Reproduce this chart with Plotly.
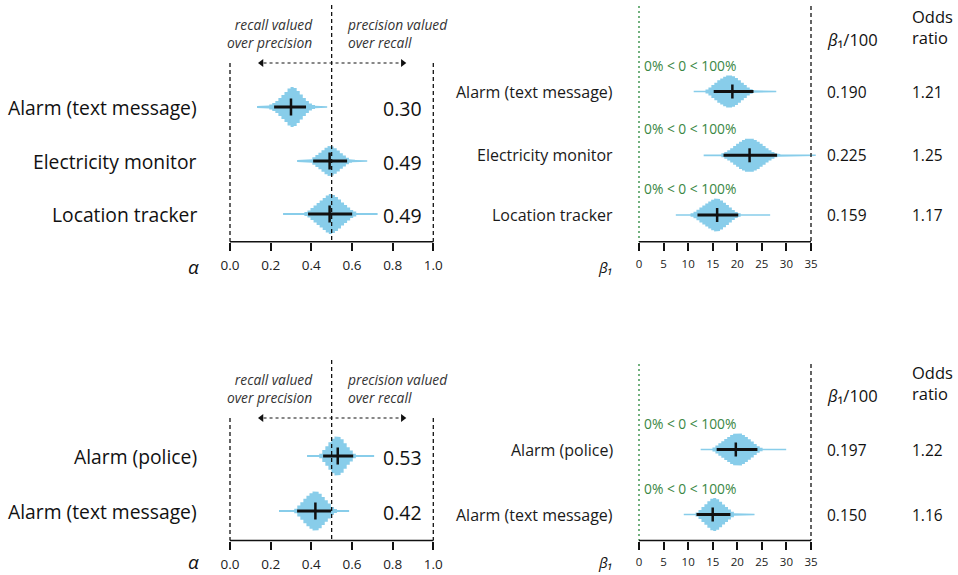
import math
import plotly.graph_objects as go

W, H = 958, 575
FONT = "Open Sans"

# ---------------- data ----------------
# top group: three devices
TOP_LABELS = ["Alarm (text message)", "Electricity monitor", "Location tracker"]
TOP_ALPHA = [0.30, 0.49, 0.49]
TOP_ALPHA_CI = [[0.217, 0.374], [0.409, 0.576], [0.384, 0.601]]
TOP_ALPHA_HIST_START = [0.133, 0.330, 0.261]
TOP_ALPHA_HIST_PEAK = [1.0, 0.75, 1.0]
TOP_ALPHA_HIST = [
    [0.05, 0.05, 0.05, 0.08, 0.12, 0.2, 0.3, 0.45, 0.6, 0.75, 0.92, 1.0,
     0.95, 0.8, 0.62, 0.45, 0.3, 0.18, 0.1, 0.06, 0.05, 0.05, 0.04],
    [0.07, 0.07, 0.07, 0.07, 0.12, 0.25, 0.4, 0.55, 0.72, 0.88, 1.0, 0.97,
     0.85, 0.7, 0.52, 0.36, 0.22, 0.12, 0.08, 0.06, 0.06, 0.06, 0.05],
    [0.05, 0.05, 0.05, 0.05, 0.05, 0.05, 0.05, 0.1, 0.18, 0.3, 0.42, 0.55,
     0.68, 0.8, 0.92, 1.0, 0.95, 0.85, 0.72, 0.58, 0.45, 0.32, 0.2, 0.12,
     0.05, 0.05, 0.05, 0.05, 0.05, 0.05, 0.05],
]
TOP_BETA = [19.0, 22.5, 15.9]
TOP_BETA_CI = [[15.2, 23.3], [17.2, 28.1], [11.9, 20.2]]
TOP_BETA_HIST_START = [11.13, 13.16, 7.49]
TOP_BETA_HIST_PEAK = [0.94, 1.0, 0.97]
TOP_BETA_HIST = [
    [0.05, 0.05, 0.05, 0.05, 0.12, 0.25, 0.4, 0.55, 0.7, 0.82, 0.92, 1.0,
     1.0, 0.95, 0.85, 0.7, 0.55, 0.4, 0.25, 0.14, 0.08, 0.05, 0.05, 0.05,
     0.05, 0.05, 0.05, 0.05],
    [0.05, 0.05, 0.05, 0.05, 0.05, 0.05, 0.12, 0.2, 0.3, 0.42, 0.55, 0.68,
     0.8, 0.9, 0.97, 1.0, 0.97, 0.9, 0.8, 0.68, 0.55, 0.42, 0.3, 0.2, 0.12,
     0.08, 0.04, 0.04, 0.04, 0.04, 0.04, 0.04, 0.04, 0.04, 0.04, 0.04, 0.04,
     0.04],
    [0.05, 0.05, 0.05, 0.05, 0.05, 0.1, 0.2, 0.32, 0.45, 0.58, 0.7, 0.82,
     0.92, 1.0, 0.97, 0.88, 0.75, 0.6, 0.45, 0.3, 0.18, 0.1, 0.05, 0.05,
     0.05, 0.05, 0.05, 0.05, 0.05, 0.05, 0.05, 0.05],
]

# bottom group: two alarm variants
BOT_LABELS = ["Alarm (police)", "Alarm (text message)"]
BOT_ALPHA = [0.53, 0.42]
BOT_ALPHA_CI = [[0.458, 0.606], [0.330, 0.497]]
BOT_ALPHA_HIST_START = [0.379, 0.241]
BOT_ALPHA_HIST_PEAK = [0.98, 0.98]
BOT_ALPHA_HIST = [
    [0.05, 0.05, 0.05, 0.05, 0.12, 0.3, 0.5, 0.7, 0.88, 1.0, 0.97, 0.85,
     0.65, 0.45, 0.28, 0.12, 0.05, 0.05, 0.05, 0.05, 0.05, 0.05],
    [0.05, 0.05, 0.05, 0.05, 0.05, 0.12, 0.28, 0.45, 0.62, 0.78, 0.9, 1.0,
     0.98, 0.88, 0.72, 0.55, 0.38, 0.2, 0.1, 0.05, 0.05, 0.05, 0.05],
]
BOT_BETA = [19.7, 15.0]
BOT_BETA_CI = [[15.8, 24.1], [11.7, 18.6]]
BOT_BETA_HIST_START = [12.55, 9.11]
BOT_BETA_HIST_PEAK = [0.97, 0.97]
BOT_BETA_HIST = [
    [0.05, 0.05, 0.05, 0.05, 0.12, 0.25, 0.38, 0.5, 0.63, 0.76, 0.88, 0.96,
     1.0, 0.97, 0.88, 0.76, 0.62, 0.48, 0.34, 0.2, 0.1, 0.04, 0.04, 0.04,
     0.04, 0.04, 0.04, 0.04, 0.04],
    [0.05, 0.05, 0.05, 0.05, 0.12, 0.28, 0.45, 0.62, 0.8, 0.95, 1.0, 0.92,
     0.78, 0.6, 0.45, 0.3, 0.16, 0.08, 0.05, 0.05, 0.05, 0.05, 0.05, 0.05],
]

ALPHA_BIN = 0.015
BETA_BIN = 0.6
ALPHA_TICKS = [0.0, 0.2, 0.4, 0.6, 0.8, 1.0]
BETA_TICKS = [0, 5, 10, 15, 20, 25, 30, 35]
SIGN_TEXT = "0% < 0 < 100%"
LEFT_NOTE = "recall valued<br>over precision"
RIGHT_NOTE = "precision valued<br>over recall"

# ---------------- layout constants (pixels) ----------------
BLUE = "#88CDEA"
GREEN_TXT = "#3a8744"
GREEN_LINE = "#4f9f5e"
INK = "#111111"
DASH = "4px,3px"

ALPHA_PX = (230, 433.3)
BETA_PX = (639, 811)
TOP_BASE, BOT_BASE = 241.7, 540.5
TOP_ALPHA_ROWS = [107, 161, 214]
TOP_BETA_ROWS = [91.5, 155.3, 215]
BOT_ALPHA_ROWS = [456, 511]
BOT_BETA_ROWS = [449.5, 514.5]
ALPHA_HALF_PX = 20
BETA_HALF_PX = 17
ALPHA_TICK_HALF = 8.5
BETA_TICK_HALF = 7


def paper_x(px):
    return px / W


def x_axis(px_rng, v_rng, base_px, tickvals, ticktext, fsize, pad=12):
    upp = (v_rng[1] - v_rng[0]) / (px_rng[1] - px_rng[0])
    return dict(
        domain=[(px_rng[0] - pad) / W, (px_rng[1] + pad) / W],
        range=[v_rng[0] - pad * upp, v_rng[1] + pad * upp],
        anchor="free", position=1 - base_px / H,
        showline=False, showgrid=False, zeroline=False,
        ticks="outside", ticklen=8, tickwidth=1.5, tickcolor=INK,
        tickvals=tickvals, ticktext=ticktext,
        tickfont=dict(family=FONT, size=fsize, color="#222"),
        ticklabelstandoff=3, fixedrange=True,
    )


fig = go.Figure()
shapes = []
annotations = []


def add_violin(xref, start, binw, heights, peak, yc, half_px):
    xs, ys = [], []
    for i, h in enumerate(heights):
        xl = start + i * binw
        xs += [xl, xl + binw]
        ys += [yc - h * peak * half_px] * 2
    for i in reversed(range(len(heights))):
        xl = start + i * binw
        xs += [xl + binw, xl]
        ys += [yc + heights[i] * peak * half_px] * 2
    xs.append(xs[0]); ys.append(ys[0])
    fig.add_trace(go.Scatter(x=xs, y=ys, xaxis=xref, yaxis="y", mode="lines",
                             fill="toself", fillcolor=BLUE, line=dict(width=0),
                             hoverinfo="skip", showlegend=False))


def add_cross(xref, mean, ci, yc, tick_half):
    fig.add_trace(go.Scatter(x=ci, y=[yc, yc], xaxis=xref, yaxis="y", mode="lines",
                             line=dict(color=INK, width=3), hoverinfo="skip",
                             showlegend=False))
    fig.add_trace(go.Scatter(x=[mean, mean], y=[yc - tick_half, yc + tick_half],
                             xaxis=xref, yaxis="y", mode="lines",
                             line=dict(color=INK, width=2.5), hoverinfo="skip",
                             showlegend=False))


def vline(xref, x, y0, y1, color, dash=DASH, width=1.3):
    shapes.append(dict(type="line", xref=xref, yref="y", x0=x, x1=x, y0=y0, y1=y1,
                       line=dict(color=color, width=width, dash=dash)))


def hline(xref, x0, x1, y, width=1.5, dash="solid"):
    shapes.append(dict(type="line", xref=xref, yref="y", x0=x0, x1=x1, y0=y, y1=y,
                       line=dict(color=INK, width=width, dash=dash)))


def text(x_px, y_px, s, size, anchor="left", color=INK, italic=False):
    annotations.append(dict(
        xref="paper", yref="y", x=paper_x(x_px), y=y_px, text=s, showarrow=False,
        xanchor=anchor, yanchor="middle", align=anchor if anchor != "center" else "center",
        font=dict(family=FONT, size=size, color=color,
                  style="italic" if italic else "normal")))


def double_arrow(xref, x0, x1, y):
    # dashed shaft plus a filled head at each end
    hline(xref, x0 + 0.01, x1 - 0.01, y, width=1.2, dash="3px,3px")
    fig.add_trace(go.Scatter(x=[x0, x1], y=[y, y], xaxis=xref, yaxis="y",
                             mode="markers", hoverinfo="skip", showlegend=False,
                             marker=dict(symbol=["triangle-left", "triangle-right"],
                                         size=7, color=INK, line=dict(width=0))))


def alpha_panel(xref, labels, means, cis, starts, peaks, hists, rows, base, top_px, axis_y):
    for lab, m, ci, s, pk, hs, yc in zip(labels, means, cis, starts, peaks, hists, rows):
        add_violin(xref, s, ALPHA_BIN, hs, pk, yc, ALPHA_HALF_PX)
        add_cross(xref, m, ci, yc, ALPHA_TICK_HALF)
        text(199, yc, lab, 19.3, anchor="right")
        text(381, yc + 1, f"{m:.2f}", 19.5)
    arrow_y = top_px + 58
    vline(xref, 0.5, top_px, base, INK)
    vline(xref, 0.0, arrow_y, base, INK)
    vline(xref, 1.0, arrow_y, base, INK)
    hline(xref, 0.0, 1.0, base)
    double_arrow(xref, 0.155, 0.85, arrow_y)
    text(315, top_px + 28, LEFT_NOTE, 13.8, anchor="right", color="#333", italic=True)
    text(345, top_px + 28, RIGHT_NOTE, 13.8, color="#333", italic=True)
    text(193, axis_y, "α", 19, anchor="center", italic=True)


def beta_panel(xref, labels, means, cis, starts, peaks, hists, rows, base, top_px,
               head_y, axis_y):
    for lab, m, ci, s, pk, hs, yc in zip(labels, means, cis, starts, peaks, hists, rows):
        add_violin(xref, s, BETA_BIN, hs, pk, yc, BETA_HALF_PX)
        add_cross(xref, m, ci, yc, BETA_TICK_HALF)
        text(615, yc, lab, 16, anchor="right", color="#1a1a1a")
        text(825, yc, f"{m / 100:.3f}", 15.5)
        text(910, yc, f"{math.exp(m / 100):.2f}", 15.5)
        text(642, yc - 26.5, SIGN_TEXT, 13.8, color=GREEN_TXT)
    vline(xref, 0, top_px, base, GREEN_LINE, dash="2px,3px", width=1.6)
    vline(xref, 35, top_px, base, INK)
    hline(xref, 0, 35, base)
    text(825, head_y, "<i>β</i>₁/100", 16.5)
    text(910, head_y - 12.5, "Odds<br>ratio", 16.5)
    text(605, axis_y, "β₁", 15, anchor="center", italic=True)


alpha_panel("x", TOP_LABELS, TOP_ALPHA, TOP_ALPHA_CI, TOP_ALPHA_HIST_START,
            TOP_ALPHA_HIST_PEAK, TOP_ALPHA_HIST, TOP_ALPHA_ROWS, TOP_BASE, 5, 267)
beta_panel("x2", TOP_LABELS, TOP_BETA, TOP_BETA_CI, TOP_BETA_HIST_START,
           TOP_BETA_HIST_PEAK, TOP_BETA_HIST, TOP_BETA_ROWS, TOP_BASE, 6, 39, 267)
alpha_panel("x3", BOT_LABELS, BOT_ALPHA, BOT_ALPHA_CI, BOT_ALPHA_HIST_START,
            BOT_ALPHA_HIST_PEAK, BOT_ALPHA_HIST, BOT_ALPHA_ROWS, BOT_BASE, 360, 562)
beta_panel("x4", BOT_LABELS, BOT_BETA, BOT_BETA_CI, BOT_BETA_HIST_START,
           BOT_BETA_HIST_PEAK, BOT_BETA_HIST, BOT_BETA_ROWS, BOT_BASE, 364, 395, 562)

alpha_ticktext = [f"{v:.1f}" for v in ALPHA_TICKS]
beta_ticktext = [str(v) for v in BETA_TICKS]

fig.update_layout(
    width=W, height=H, margin=dict(l=0, r=0, t=0, b=0),
    paper_bgcolor="white", plot_bgcolor="rgba(0,0,0,0)",
    showlegend=False,
    yaxis=dict(domain=[0, 1], range=[H, 0], visible=False, fixedrange=True),
    xaxis=x_axis(ALPHA_PX, (0, 1), TOP_BASE, ALPHA_TICKS, alpha_ticktext, 13.5),
    xaxis2=x_axis(BETA_PX, (0, 35), TOP_BASE, BETA_TICKS, beta_ticktext, 11.5),
    xaxis3=x_axis(ALPHA_PX, (0, 1), BOT_BASE, ALPHA_TICKS, alpha_ticktext, 13.5),
    xaxis4=x_axis(BETA_PX, (0, 35), BOT_BASE, BETA_TICKS, beta_ticktext, 11.5),
    shapes=shapes, annotations=annotations,
)

fig.write_html("out.html")
